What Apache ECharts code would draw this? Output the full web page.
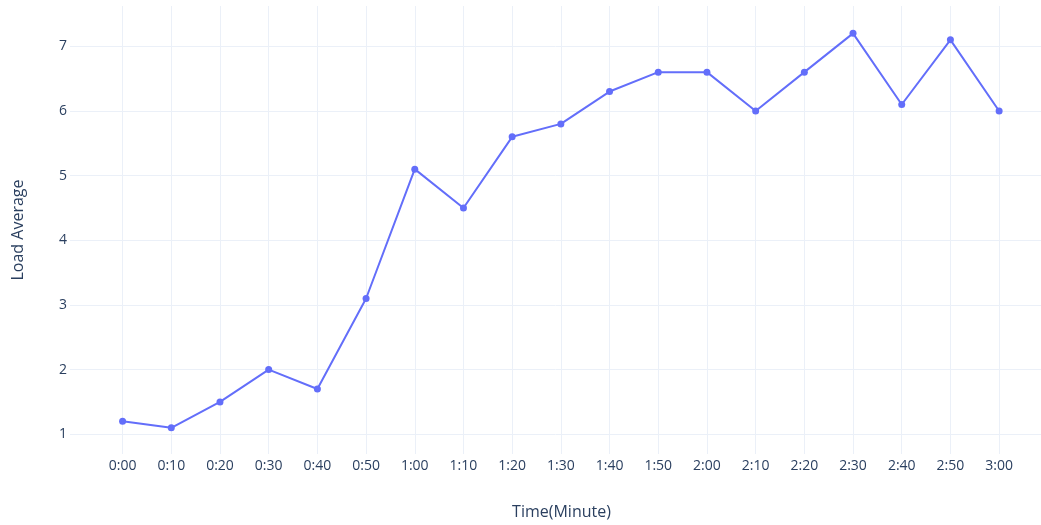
<meta charset="UTF-8"/>
<style type="text/css">
	body { margin:0; background:#fff; }
	#chart { width:1041px; height:525px; }
</style>
<div id="chart"></div>
<script src="https://cdn.jsdelivr.net/npm/echarts@6/dist/echarts.min.js"></script>
<script type="text/javascript">
// categories along x
var timeLabels = ['0:00','0:10','0:20','0:30','0:40','0:50','1:00','1:10','1:20','1:30',
	'1:40','1:50','2:00','2:10','2:20','2:30','2:40','2:50','3:00'];
// load average at each time
var loadValues = [1.2, 1.1, 1.5, 2.0, 1.7, 3.1, 5.1, 4.5, 5.6, 5.8,
	6.3, 6.6, 6.6, 6.0, 6.6, 7.2, 6.1, 7.1, 6.0];
var yTicks = [1, 2, 3, 4, 5, 6, 7];

var xTicks = [];
var points = [];
for (var i = 0; i < timeLabels.length; i++) {
	xTicks.push(i);
	points.push([i, loadValues[i]]);
}

var txtColor = '#2a3f5f';
var gridColor = '#ebf0f8';
var font = "'Open Sans', sans-serif";

var myChart = echarts.init(document.getElementById('chart'));
var option = {
	animation: false,
	grid: { left: 70, top: 6, width: 971, height: 448, containLabel: false },
	xAxis: {
		type: 'value',
		min: -1.08,
		max: 18.86,
		name: 'Time(Minute)',
		nameLocation: 'middle',
		nameGap: 50,
		nameTextStyle: { color: txtColor, fontSize: 16, fontFamily: font, padding: [0, 0, 0, 12] },
		axisLine: { show: false },
		axisTick: { show: false, customValues: xTicks },
		axisLabel: {
			customValues: xTicks,
			color: txtColor, fontSize: 14, fontFamily: font, margin: 5,
			formatter: function (v) { return timeLabels[Math.round(v)]; }
		},
		splitLine: { show: true, lineStyle: { color: gridColor, width: 1 } }
	},
	yAxis: {
		type: 'value',
		min: 0.695,
		max: 7.623,
		name: 'Load Average',
		nameLocation: 'middle',
		nameGap: 44,
		nameTextStyle: { color: txtColor, fontSize: 16, fontFamily: font },
		axisLine: { show: false },
		axisTick: { show: false, customValues: yTicks },
		axisLabel: {
			customValues: yTicks,
			color: txtColor, fontSize: 14, fontFamily: font, margin: 3
		},
		splitLine: { show: true, lineStyle: { color: gridColor, width: 1 } }
	},
	series: [{
		type: 'line',
		data: points,
		symbol: 'circle',
		symbolSize: 7,
		showSymbol: true,
		lineStyle: { color: '#636efa', width: 2 },
		itemStyle: { color: '#636efa' }
	}]
};
myChart.setOption(option);
</script>
